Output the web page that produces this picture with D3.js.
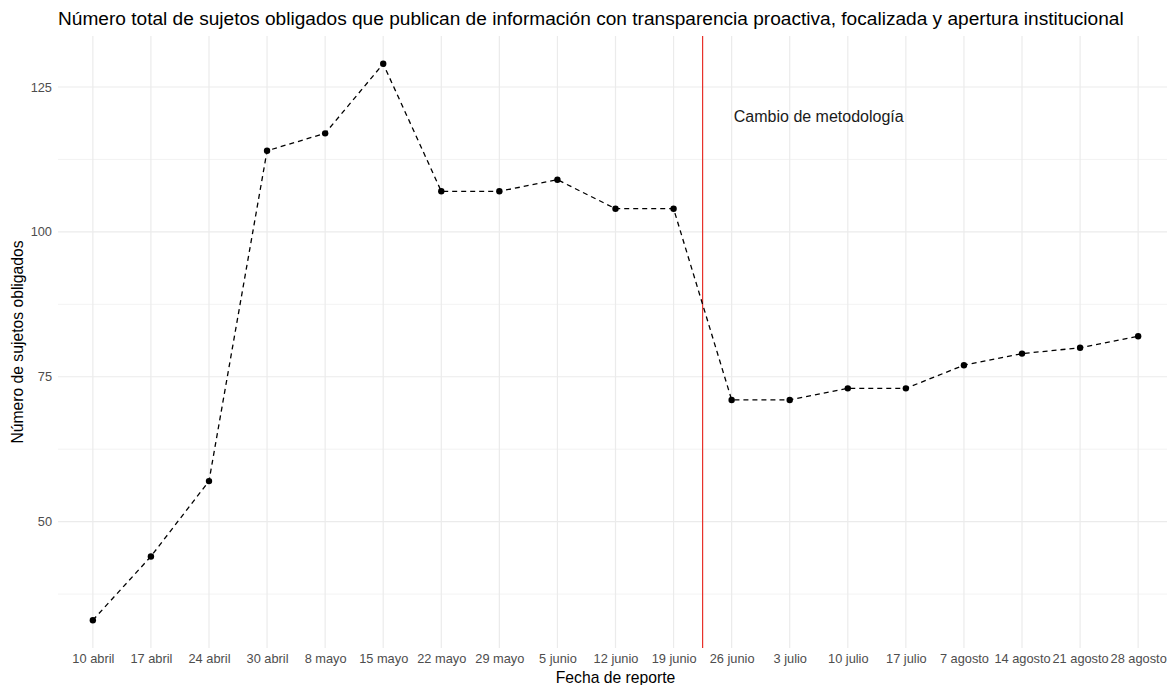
<!DOCTYPE html>
<html>
<head>
<meta charset="utf-8">
<script src="https://cdn.jsdelivr.net/npm/d3@7"></script>
<style>
  body { margin: 0; background: #fff; }
  text { font-family: "Liberation Sans", Arial, sans-serif; }
</style>
</head>
<body>
<div id="chart"></div>
<script>
// data
var fechas = ["10 abril", "17 abril", "24 abril", "30 abril", "8 mayo", "15 mayo", "22 mayo", "29 mayo",
  "5 junio", "12 junio", "19 junio", "26 junio", "3 julio", "10 julio", "17 julio", "7 agosto",
  "14 agosto", "21 agosto", "28 agosto"];
var sujetos = [33, 44, 57, 114, 117, 129, 107, 107, 109, 104, 104, 71, 71, 73, 73, 77, 79, 80, 82];
var yTicks = [50, 75, 100, 125];
var yMinor = [37.5, 62.5, 87.5, 112.5];
var cambioPos = 10.5;   // between 19 junio and 26 junio
var notaPos = 12.5, notaY = 120, notaTexto = "Cambio de metodología";

var width = 1167, height = 685;
var panel = {left: 58, right: 1173, top: 36, bottom: 648};

var svg = d3.select('#chart').append('svg').attr('width', width).attr('height', height);

// discrete axis, ggplot-like 0.6 expansion
var x = d3.scaleLinear().domain([-0.6, fechas.length - 1 + 0.6]).range([panel.left, panel.right]);
var ext = d3.extent(sujetos), pad = (ext[1] - ext[0]) * 0.05;
var y = d3.scaleLinear().domain([ext[0] - pad, ext[1] + pad]).range([panel.bottom, panel.top]);

var grid = svg.append('g');
grid.selectAll('.minor').data(yMinor).enter().append('line')
  .attr('x1', panel.left).attr('x2', panel.right)
  .attr('y1', function(d) { return y(d); }).attr('y2', function(d) { return y(d); })
  .attr('stroke', '#ebebeb').attr('stroke-width', 0.6);
grid.selectAll('.major').data(yTicks).enter().append('line')
  .attr('x1', panel.left).attr('x2', panel.right)
  .attr('y1', function(d) { return y(d); }).attr('y2', function(d) { return y(d); })
  .attr('stroke', '#ebebeb').attr('stroke-width', 1.2);
grid.selectAll('.vx').data(fechas).enter().append('line')
  .attr('x1', function(d, i) { return x(i); }).attr('x2', function(d, i) { return x(i); })
  .attr('y1', panel.top).attr('y2', panel.bottom)
  .attr('stroke', '#ebebeb').attr('stroke-width', 1.2);

// axes (no lines, only labels)
var yAxis = svg.append('g').attr('transform', 'translate(' + panel.left + ',0)')
  .call(d3.axisLeft(y).tickValues(yTicks).tickSize(0).tickPadding(6));
yAxis.select('.domain').remove();
yAxis.selectAll('text').attr('fill', '#4d4d4d').style('font-size', '12.8px')
  .style('font-family', '"Liberation Sans", Arial, sans-serif');

var xAxis = svg.append('g').attr('transform', 'translate(0,' + panel.bottom + ')')
  .call(d3.axisBottom(x).tickValues(d3.range(fechas.length)).tickSize(0).tickPadding(6)
    .tickFormat(function(i) { return fechas[i]; }));
xAxis.select('.domain').remove();
xAxis.selectAll('text').attr('fill', '#4d4d4d').style('font-size', '12.8px')
  .style('font-family', '"Liberation Sans", Arial, sans-serif');

// methodology change
svg.append('line').attr('x1', x(cambioPos)).attr('x2', x(cambioPos))
  .attr('y1', panel.top).attr('y2', panel.bottom)
  .attr('stroke', '#e8302a').attr('stroke-width', 1.2);
svg.append('text').attr('x', x(notaPos)).attr('y', y(notaY)).attr('dy', '0.35em')
  .attr('text-anchor', 'middle').attr('fill', '#1a1a1a').style('font-size', '16px')
  .text(notaTexto);

// series
var line = d3.line().x(function(d, i) { return x(i); }).y(function(d) { return y(d); });
svg.append('path').datum(sujetos).attr('d', line).attr('fill', 'none')
  .attr('stroke', '#000').attr('stroke-width', 1.3).attr('stroke-dasharray', '5,4');
svg.selectAll('.pt').data(sujetos).enter().append('circle')
  .attr('cx', function(d, i) { return x(i); }).attr('cy', function(d) { return y(d); })
  .attr('r', 3.2).attr('fill', '#000');

// titles
svg.append('text').attr('x', panel.left).attr('y', 25).attr('fill', '#000').style('font-size', '19.1px')
  .text('Número total de sujetos obligados que publican de información con transparencia proactiva, focalizada y apertura institucional');
svg.append('text').attr('x', (panel.left + panel.right) / 2).attr('y', 683).attr('text-anchor', 'middle')
  .attr('fill', '#000').style('font-size', '15.7px').text('Fecha de reporte');
svg.append('text').attr('transform', 'translate(23,' + ((panel.top + panel.bottom) / 2) + ') rotate(-90)')
  .attr('text-anchor', 'middle').attr('fill', '#000').style('font-size', '15.7px').text('Número de sujetos obligados');
</script>
</body>
</html>
